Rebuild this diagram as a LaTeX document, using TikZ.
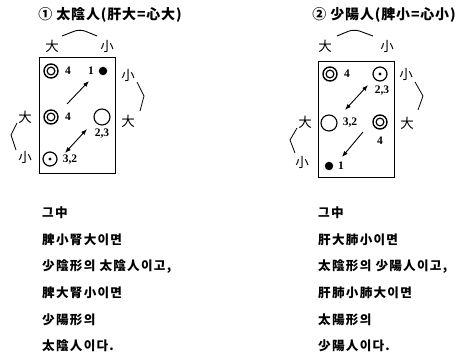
\documentclass[tikz,border=0pt]{standalone}
\usepackage{fontspec}
\newfontfamily\kr{Noto Sans CJK KR}
\newfontfamily\krt{Noto Sans CJK KR}[LetterSpace=6]
\newfontfamily\krsp{Noto Sans CJK KR}[LetterSpace=10]
\newfontfamily\numf{Liberation Serif}
\usetikzlibrary{arrows.meta}
\begin{document}
\begin{tikzpicture}[x=1pt,y=-1pt,
  ttl/.style={font=\krt\bfseries\fontsize{14}{16}\selectfont, inner sep=0pt},
  lbl/.style={font=\kr\fontsize{13.5}{15}\selectfont, inner sep=0pt},
  txt/.style={font=\krsp\bfseries\fontsize{12.6}{14}\selectfont, inner sep=0pt, anchor=west},
  num/.style={font=\numf\bfseries\fontsize{11.5}{13}\selectfont, inner sep=0pt},
  frame/.style={draw, line width=0.9pt},
  dbl/.style={circle, draw, line width=1.4pt, minimum size=14pt, inner sep=0pt,
     path picture={\draw[line width=1.2pt] (path picture bounding box.center) circle[radius=3.9pt];}},
  opn/.style={circle, draw, line width=1.1pt, minimum size=16pt, inner sep=0pt},
  dotc/.style={circle, draw, line width=1.2pt, minimum size=14pt, inner sep=0pt,
     path picture={\fill (path picture bounding box.center) circle[radius=1.6pt];}},
  fdot/.style={circle, fill, minimum size=8.5pt, inner sep=0pt},
  arr/.style={line width=0.9pt, -{Latex[length=6pt,width=4.5pt]}},
  darr/.style={line width=0.9pt, {Latex[length=6pt,width=4.5pt]}-{Latex[length=6pt,width=4.5pt]}},
  brk/.style={line width=0.8pt},
  chev/.style={line width=0.9pt, rounded corners=6pt}
]
\useasboundingbox (0,0) rectangle (464,363);

% ---------------- left panel ----------------
\node[ttl] (t1) at (110,15) {① 太陰人(肝大=心大)};
\coordinate (c1a) at (62,36);
\coordinate (c1m) at (80,29);
\coordinate (c1b) at (97,36);
\draw[chev] (c1a) -- (c1m) -- (c1b);
\node[lbl] (l1big) at (52,46) {大};
\node[lbl] (l1small) at (107,46) {小};
\node[frame, minimum width=76pt, minimum height=116pt, inner sep=0pt] (box1) at (77,115) {};

\node[dbl] (a1) at (51,71) {};
\node[num] (a1n) at (68,71) {4};
\node[fdot] (b1) at (103,71) {};
\node[num] (b1n) at (91,71) {1};
\node[dbl] (a2) at (51,117) {};
\node[num] (a2n) at (68,117) {4};
\node[opn] (b2) at (102,117) {};
\node[num] (b2n) at (102,134) {2,3};
\node[dotc] (a3) at (50,159) {};
\node[num] (a3n) at (70,160) {3,2};

\coordinate (p1s) at (67,104);
\coordinate (p1e) at (89,81);
\draw[arr] (p1s) -- (p1e);
\coordinate (q1s) at (65,153);
\coordinate (q1e) at (87,129);
\draw[darr] (q1s) -- (q1e);

\node[lbl] (r1s) at (128,75) {小};
\node[lbl] (r1b) at (128,121) {大};
\coordinate (r1k1) at (137,82);
\coordinate (r1k2) at (144,96);
\coordinate (r1k3) at (140,111);
\draw[brk] (r1k1) -- (r1k2) -- (r1k3);

\node[lbl] (s1b) at (25,117) {大};
\node[lbl] (s1s) at (25,157) {小};
\coordinate (s1k1) at (17,123);
\coordinate (s1k2) at (11,135);
\coordinate (s1k3) at (16,150);
\draw[brk] (s1k1) -- (s1k2) -- (s1k3);

\node[txt] (x1) at (42,213) {그中};
\node[txt] (x2) at (42,240) {脾小腎大이면};
\node[txt] (x3) at (42,267) {少陰形의 太陰人이고,};
\node[txt] (x4) at (42,293) {脾大腎小이면};
\node[txt] (x5) at (42,320) {少陽形의};
\node[txt] (x6) at (42,346) {太陰人이다.};

% ---------------- right panel ----------------
\node[ttl] (t2) at (384,15) {② 少陽人(脾小=心小)};
\coordinate (c2a) at (337,36);
\coordinate (c2m) at (354,29);
\coordinate (c2b) at (373,36);
\draw[chev] (c2a) -- (c2m) -- (c2b);
\node[lbl] (l2big) at (325,46) {大};
\node[lbl] (l2small) at (387,46) {小};
\node[frame, minimum width=76pt, minimum height=116pt, inner sep=0pt] (box2) at (356,119) {};

\node[dbl] (c1) at (330,74) {};
\node[num] (c1n) at (347,74) {4};
\node[dotc] (d1) at (380,74) {};
\node[num] (d1n) at (382,91) {2,3};
\node[opn] (c2) at (329,123) {};
\node[num] (c2n) at (350,123) {3,2};
\node[dbl] (d2) at (380,122) {};
\node[num] (d2n) at (380,141) {4};
\node[fdot] (c3) at (329,166) {};
\node[num] (c3n) at (341,166) {1};

\coordinate (p2s) at (368,85);
\coordinate (p2e) at (345,110);
\draw[darr] (p2s) -- (p2e);
\coordinate (q2s) at (363,132);
\coordinate (q2e) at (342,157);
\draw[arr] (q2s) -- (q2e);

\node[lbl] (r2s) at (406,74) {小};
\node[lbl] (r2b) at (407,123) {大};
\coordinate (r2k1) at (415,82);
\coordinate (r2k2) at (423,96);
\coordinate (r2k3) at (418,110);
\draw[brk] (r2k1) -- (r2k2) -- (r2k3);

\node[lbl] (s2b) at (305,122) {大};
\node[lbl] (s2s) at (302,162) {小};
\coordinate (s2k1) at (297,128);
\coordinate (s2k2) at (290,140);
\coordinate (s2k3) at (295,153);
\draw[brk] (s2k1) -- (s2k2) -- (s2k3);

\node[txt] (y1) at (318,213) {그中};
\node[txt] (y2) at (318,240) {肝大肺小이면};
\node[txt] (y3) at (318,267) {太陰形의 少陽人이고,};
\node[txt] (y4) at (318,293) {肝肺小肺大이면};
\node[txt] (y5) at (318,320) {太陽形의};
\node[txt] (y6) at (318,346) {少陽人이다.};
\end{tikzpicture}
\end{document}
